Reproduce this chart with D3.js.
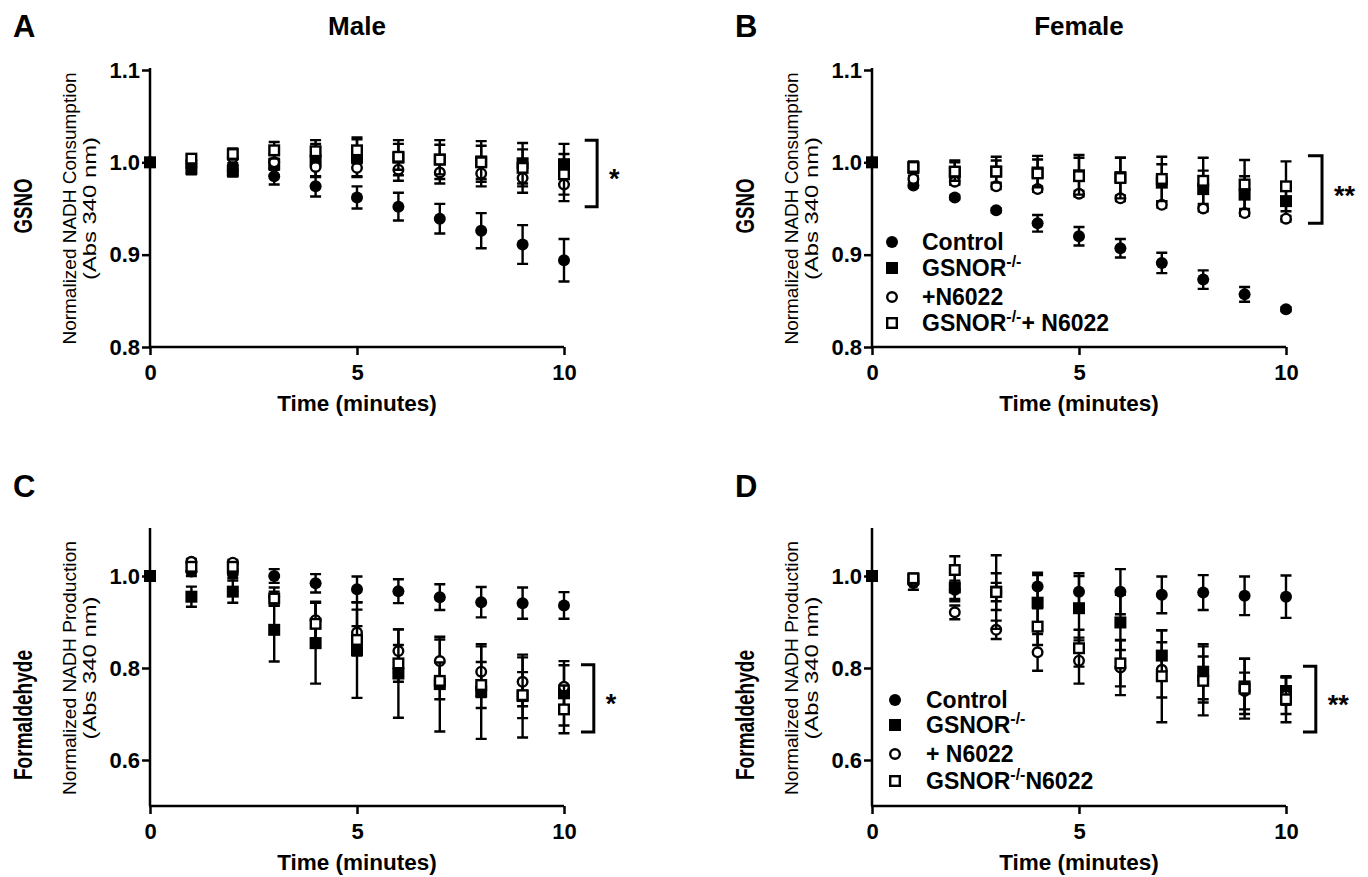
<!DOCTYPE html>
<html>
<head>
<meta charset="utf-8">
<script src="https://cdnjs.cloudflare.com/ajax/libs/d3/7.8.5/d3.min.js"></script>
<style>
    body { margin: 0; background: #fff; }
    svg { display: block; font-family: "Liberation Sans", Arial, sans-serif; }
</style>
</head>
<body>
<div id="draw"></div>
<script>
(function () {
    "use strict";

    // time points (minutes)
    var time = [0, 1, 2, 3, 4, 5, 6, 7, 8, 9, 10];

    // A - male, GSNO  (null = no point drawn at t=0)
    var maleGsnoControl = [1, 0.995, 0.991, 0.985, 0.974, 0.962, 0.952, 0.939, 0.926, 0.911, 0.894];
    var maleGsnoControlErr = [0, 0.006, 0.006, 0.009, 0.011, 0.012, 0.015, 0.016, 0.019, 0.021, 0.023];
    var maleGsnoKO = [1, 0.993, 0.991, 0.998, 1.002, 1.005, 1.005, 1.003, 1.001, 0.999, 0.998];
    var maleGsnoKOErr = [0, 0.006, 0.006, 0.012, 0.018, 0.020, 0.019, 0.021, 0.022, 0.022, 0.022];
    var maleGsnoN6022 = [null, 1.002, 1.005, 1.0, 0.995, 0.994, 0.992, 0.989, 0.988, 0.983, 0.976];
    var maleGsnoN6022Err = [0, 0.004, 0.006, 0.008, 0.010, 0.010, 0.012, 0.012, 0.014, 0.016, 0.018];
    var maleGsnoKON6022 = [null, 1.004, 1.009, 1.013, 1.012, 1.013, 1.006, 1.003, 1.0, 0.994, 0.987];
    var maleGsnoKON6022Err = [0, 0.004, 0.006, 0.009, 0.012, 0.014, 0.014, 0.016, 0.018, 0.020, 0.022];

    // B - female, GSNO
    var femGsnoControl = [1, 0.975, 0.962, 0.948, 0.934, 0.920, 0.907, 0.891, 0.873, 0.857, 0.841];
    var femGsnoControlErr = [0, 0.002, 0.002, 0.002, 0.009, 0.010, 0.010, 0.011, 0.010, 0.008, 0.002];
    var femGsnoKO = [1, 0.994, 0.989, 0.990, 0.989, 0.986, 0.984, 0.978, 0.971, 0.965, 0.958];
    var femGsnoKOErr = [0, 0.006, 0.013, 0.016, 0.018, 0.022, 0.021, 0.02, 0.02, 0.02, 0.02];
    var femGsnoN6022 = [null, 0.982, 0.979, 0.974, 0.971, 0.966, 0.961, 0.954, 0.950, 0.945, 0.939];
    var femGsnoN6022Err = [0, 0.003, 0.003, 0.003, 0.003, 0.003, 0.003, 0.003, 0.003, 0.003, 0.003];
    var femGsnoKON6022 = [null, 0.995, 0.99, 0.99, 0.988, 0.985, 0.983, 0.982, 0.980, 0.976, 0.974];
    var femGsnoKON6022Err = [0, 0.006, 0.01, 0.012, 0.015, 0.02, 0.022, 0.024, 0.025, 0.0265, 0.027];

    // C - male, formaldehyde
    var maleFormControl = [1, 1.01, 1.005, 1.0, 0.984, 0.971, 0.967, 0.954, 0.943, 0.941, 0.936];
    var maleFormControlErr = [0, 0.01, 0.01, 0.015, 0.02, 0.028, 0.026, 0.028, 0.033, 0.034, 0.029];
    var maleFormKO = [1, 0.955, 0.966, 0.883, 0.854, 0.839, 0.788, 0.765, 0.749, 0.739, 0.745];
    var maleFormKOErr = [0, 0.022, 0.024, 0.069, 0.088, 0.104, 0.096, 0.103, 0.103, 0.09, 0.07];
    var maleFormN6022 = [null, 1.031, 1.029, 0.955, 0.904, 0.877, 0.837, 0.815, 0.792, 0.770, 0.759];
    var maleFormN6022Err = [0, 0.006, 0.006, 0.02, 0.04, 0.05, 0.047, 0.047, 0.055, 0.053, 0.047];
    var maleFormKON6022 = [null, 1.02, 1.02, 0.951, 0.896, 0.861, 0.810, 0.772, 0.763, 0.741, 0.710];
    var maleFormKON6022Err = [0, 0.008, 0.008, 0.015, 0.047, 0.03, 0.04, 0.04, 0.05, 0.05, 0.052];

    // D - female, formaldehyde
    var femFormControl = [1, 0.985, 0.97, 0.965, 0.977, 0.966, 0.966, 0.959, 0.964, 0.957, 0.955];
    var femFormControlErr = [0, 0.015, 0.02, 0.02, 0.03, 0.04, 0.049, 0.04, 0.038, 0.042, 0.046];
    var femFormKO = [1, 0.993, 0.975, 0.966, 0.942, 0.930, 0.899, 0.827, 0.792, 0.760, 0.750];
    var femFormKOErr = [0, 0.01, 0.03, 0.04, 0.06, 0.07, 0.06, 0.055, 0.06, 0.06, 0.03];
    var femFormN6022 = [null, 0.99, 0.921, 0.883, 0.834, 0.816, 0.801, 0.796, 0.775, 0.75, 0.74];
    var femFormN6022Err = [0, 0.008, 0.015, 0.02, 0.04, 0.05, 0.06, 0.06, 0.05, 0.04, 0.04];
    var femFormKON6022 = [null, 0.995, 1.013, 0.965, 0.89, 0.843, 0.81, 0.782, 0.772, 0.755, 0.732];
    var femFormKON6022Err = [0, 0.01, 0.03, 0.08, 0.04, 0.04, 0.05, 0.1, 0.075, 0.065, 0.05];

    var xTicks = [0, 5, 10];
    var gsnoTicks = [0.8, 0.9, 1.0, 1.1];
    var formTicks = [0.6, 0.8, 1.0];

    // marker types, same order for every panel
    var markerTypes = ['circle', 'square', 'openCircle', 'openSquare'];

    var svg = d3.select('#draw').append('svg')
        .attr('width', 1368)
        .attr('height', 877);

    var panels = [
        {
            letter: 'A', title: 'Male', row: 'GSNO', left: 150, right: 564, top: 70, bottom: 347,
            domain: [0.8, 1.1], ticks: gsnoTicks,
            yLabel: 'Normalized NADH Consumption',
            series: [[maleGsnoControl, maleGsnoControlErr], [maleGsnoKO, maleGsnoKOErr],
                [maleGsnoN6022, maleGsnoN6022Err], [maleGsnoKON6022, maleGsnoKON6022Err]],
            bracket: {x0: 10.5, x1: 10.8, hi: 1.024, lo: 0.952, star: '*'},
            legend: null
        },
        {
            letter: 'B', title: 'Female', row: 'GSNO', left: 872, right: 1286, top: 70, bottom: 347,
            domain: [0.8, 1.1], ticks: gsnoTicks,
            yLabel: 'Normalized NADH Consumption',
            series: [[femGsnoControl, femGsnoControlErr], [femGsnoKO, femGsnoKOErr],
                [femGsnoN6022, femGsnoN6022Err], [femGsnoKON6022, femGsnoKON6022Err]],
            bracket: {x0: 10.53, x1: 10.87, hi: 1.007, lo: 0.934, star: '**'},
            legend: {x: 892, ys: [242, 268, 297, 323], tx: 922,
                labels: [['Control'], ['GSNOR', '-/-'], ['+N6022'], ['GSNOR', '-/-', '+ N6022']]}
        },
        {
            letter: 'C', title: null, row: 'Formaldehyde', left: 150, right: 564, top: 530, bottom: 806,
            domain: [0.5, 1.1], ticks: formTicks,
            yLabel: 'Normalized NADH Production',
            series: [[maleFormControl, maleFormControlErr], [maleFormKO, maleFormKOErr],
                [maleFormN6022, maleFormN6022Err], [maleFormKON6022, maleFormKON6022Err]],
            bracket: {x0: 10.41, x1: 10.72, hi: 0.807, lo: 0.661, star: '*'},
            legend: null
        },
        {
            letter: 'D', title: null, row: 'Formaldehyde', left: 872, right: 1286, top: 530, bottom: 806,
            domain: [0.5, 1.1], ticks: formTicks,
            yLabel: 'Normalized NADH Production',
            series: [[femFormControl, femFormControlErr], [femFormKO, femFormKOErr],
                [femFormN6022, femFormN6022Err], [femFormKON6022, femFormKON6022Err]],
            bracket: {x0: 10.41, x1: 10.72, hi: 0.804, lo: 0.661, star: '**'},
            legend: {x: 895, ys: [700, 725, 754, 781], tx: 926,
                labels: [['Control'], ['GSNOR', '-/-'], ['+ N6022'], ['GSNOR', '-/-', 'N6022']]}
        }
    ];

    function drawMarker(g, type, cx, cy, size) {
        var h = size / 2;
        if (type === 'circle' || type === 'openCircle') {
            g.append('circle')
                .attr('cx', cx).attr('cy', cy)
                .attr('r', type === 'circle' ? h : h - 1.2)
                .attr('fill', type === 'circle' ? '#000' : '#fff')
                .attr('stroke', '#000')
                .attr('stroke-width', type === 'circle' ? 0 : 2.4);
        } else {
            var s = type === 'square' ? size : size - 2.4;
            g.append('rect')
                .attr('x', cx - s / 2).attr('y', cy - s / 2)
                .attr('width', s).attr('height', s)
                .attr('fill', type === 'square' ? '#000' : '#fff')
                .attr('stroke', '#000')
                .attr('stroke-width', type === 'square' ? 0 : 2.4);
        }
    }

    function labelLines(g, parts, x, y, size) {
        var t = g.append('text')
            .attr('x', x).attr('y', y)
            .attr('dy', '0.35em')
            .attr('font-size', size)
            .attr('font-weight', 'bold');
        t.append('tspan').text(parts[0]);
        if (parts.length > 1) {
            t.append('tspan').attr('dy', -9).attr('font-size', 16).text(parts[1]);
            if (parts.length > 2) {
                t.append('tspan').attr('dy', 9).text(parts[2]);
            } else {
                t.append('tspan').attr('dy', 9).text('');
            }
        }
    }

    panels.forEach(function (p) {
        var g = svg.append('g');
        var x = d3.scaleLinear().domain([0, 10]).range([p.left, p.right]);
        var y = d3.scaleLinear().domain(p.domain).range([p.bottom, p.top]);

        // axes
        var xAxis = g.append('g')
            .attr('transform', 'translate(0,' + p.bottom + ')')
            .call(d3.axisBottom(x).tickValues(xTicks).tickSize(8).tickSizeOuter(0).tickPadding(9));
        var yAxis = g.append('g')
            .attr('transform', 'translate(' + p.left + ',0)')
            .call(d3.axisLeft(y).tickValues(p.ticks).tickFormat(d3.format('.1f'))
                .tickSize(8).tickSizeOuter(0).tickPadding(2));
        [xAxis, yAxis].forEach(function (a) {
            a.select('.domain').attr('stroke-width', 2.5);
            a.selectAll('.tick line').attr('stroke-width', 2.5);
            a.selectAll('.tick text')
                .attr('font-size', 22)
                .attr('font-weight', 'bold')
                .attr('font-family', '"Liberation Sans", Arial, sans-serif')
                .attr('fill', '#000');
        });
        yAxis.select('.domain').attr('d', 'M0,' + p.bottom + 'V' + (p.top - 2));
        xAxis.select('.domain').attr('d', 'M' + (p.left - 1) + ',0H' + p.right);

        // axis titles
        g.append('text')
            .attr('x', (p.left + p.right) / 2)
            .attr('y', p.bottom + 64)
            .attr('text-anchor', 'middle')
            .attr('font-size', 22.5)
            .attr('font-weight', 'bold')
            .text('Time (minutes)');

        var yMid = (p.top + p.bottom) / 2,
            lx = p.left - 80;
        g.append('text')
            .attr('transform', 'translate(' + lx + ',' + yMid + ') rotate(-90)')
            .attr('text-anchor', 'middle')
            .attr('dy', '0.35em')
            .attr('font-size', 18)
            .attr('textLength', p.letter === 'A' || p.letter === 'B' ? 272 : 254)
            .attr('lengthAdjust', 'spacingAndGlyphs')
            .text(p.yLabel);
        g.append('text')
            .attr('transform', 'translate(' + (lx + 20) + ',' + yMid + ') rotate(-90)')
            .attr('text-anchor', 'middle')
            .attr('dy', '0.35em')
            .attr('font-size', 18)
            .attr('textLength', 143)
            .attr('lengthAdjust', 'spacingAndGlyphs')
            .text('(Abs 340 nm)');

        // row label
        var rowY = p.row === 'GSNO' ? 206 : 715;
        g.append('text')
            .attr('transform', 'translate(' + (p.left - 127) + ',' + rowY + ') rotate(-90)')
            .attr('text-anchor', 'middle')
            .attr('dy', '0.35em')
            .attr('font-size', 26)
            .attr('font-weight', 'bold')
            .attr('textLength', p.row === 'GSNO' ? 55 : 130)
            .attr('lengthAdjust', 'spacingAndGlyphs')
            .text(p.row);

        // panel letter and column title
        g.append('text')
            .attr('x', p.left - 137)
            .attr('y', p.top - 33)
            .attr('font-size', 31)
            .attr('font-weight', 'bold')
            .text(p.letter);
        if (p.title) {
            g.append('text')
                .attr('x', (p.left + p.right) / 2)
                .attr('y', p.top - 35)
                .attr('text-anchor', 'middle')
                .attr('font-size', 26)
                .attr('font-weight', 'bold')
                .text(p.title);
        }

        // data: error bars then markers, series by series
        p.series.forEach(function (s, si) {
            var vals = s[0], errs = s[1],
                sg = g.append('g');
            vals.forEach(function (v, i) {
                var e = errs[i];
                if (v !== null && e > 0) {
                    var cx = x(time[i]), yHi = y(v + e), yLo = y(v - e);
                    sg.append('path')
                        .attr('d', 'M' + cx + ',' + yLo + 'V' + yHi +
                            'M' + (cx - 5.5) + ',' + yHi + 'H' + (cx + 5.5) +
                            'M' + (cx - 5.5) + ',' + yLo + 'H' + (cx + 5.5))
                        .attr('stroke', '#000')
                        .attr('stroke-width', 2.4)
                        .attr('fill', 'none');
                }
            });
            vals.forEach(function (v, i) {
                if (v !== null) {
                    drawMarker(sg, markerTypes[si], x(time[i]), y(v), 12);
                }
            });
        });

        // significance bracket
        var b = p.bracket;
        g.append('path')
            .attr('d', 'M' + x(b.x0) + ',' + y(b.hi) + 'H' + x(b.x1) + 'V' + y(b.lo) + 'H' + x(b.x0))
            .attr('stroke', '#000')
            .attr('stroke-width', 3)
            .attr('fill', 'none');
        g.append('text')
            .attr('x', x(b.x1) + 12)
            .attr('y', (y(b.hi) + y(b.lo)) / 2 + 15)
            .attr('font-size', 27)
            .attr('font-weight', 'bold')
            .text(b.star);

        // legend
        if (p.legend) {
            var L = p.legend;
            L.labels.forEach(function (lab, li) {
                drawMarker(g, markerTypes[li], L.x, L.ys[li], 12);
                labelLines(g, lab, L.tx, L.ys[li], 23);
            });
        }
    });
}());
</script>
</body>
</html>
